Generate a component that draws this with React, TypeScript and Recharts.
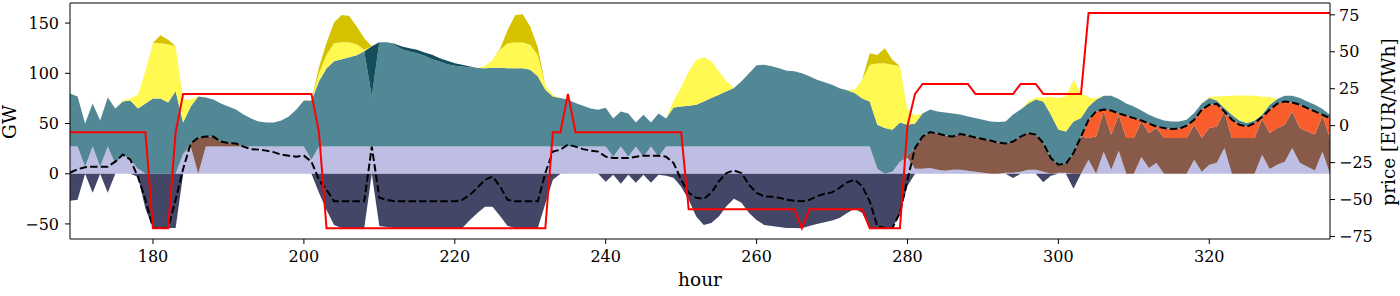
import { ComposedChart, Area, Line, XAxis, YAxis, ReferenceLine } from "recharts";

// hourly values, hours 169..336
const HOURS = Array.from({ length: 168 }, (_, i) => 169 + i);

const LAVENDER = [
  27, 27, 7, 27, 7, 27, 10, 19, 14, 5,
  0, 0, 0, 0, 0, 20, 27, 0, 27, 27,
  27, 27, 27, 27, 27, 27, 27, 27, 27, 27,
  27, 27, 14, 27, 27, 27, 27, 27, 27, 27,
  27, 27, 27, 27, 27, 27, 27, 27, 27, 27,
  27, 27, 27, 27, 27, 27, 27, 27, 27, 27,
  27, 27, 27, 27, 27, 27, 27, 27, 27, 27,
  27, 27, 17, 27, 17, 27, 17, 27, 17, 27,
  27, 27, 27, 27, 27, 27, 27, 27, 27, 27,
  27, 27, 27, 27, 27, 27, 27, 27, 27, 27,
  27, 27, 27, 27, 27, 27, 27, 5, 0, 2,
  12, 16, 5, 5, 5.6, 4, 3, 4, 4, 3,
  2, 1, 0, 0, 1, 1, 2, 4, 4, 2,
  0, 1, 1, 0, 0, 14, 0, 22, 4, 23,
  0, 0, 16.6, 5.6, 10.6, 0, 0, 0, 0, 14,
  2, 9, 11, 25.5, 0, 0, 0, 0, 19, 4.6,
  9, 12, 25.5, 11, 7, 3.3, 22, 0,
];

const BROWN = [
  0, 0, 0, 0, 0, 0, 0, 0, 0, 0,
  0, 0, 0, 0, 0, 0, 3, 36, 10, 10,
  5, 3.5, 3, 0, 0, 0, 0, 0, 0, 0,
  0, 0, 0, 0, 0, 0, 0, 0, 0, 0,
  0, 0, 0, 0, 0, 0, 0, 0, 0, 0,
  0, 0, 0, 0, 0, 0, 0, 0, 0, 0,
  0, 0, 0, 0, 0, 0, 0, 0, 0, 0,
  0, 0, 0, 0, 0, 0, 0, 0, 0, 0,
  0, 0, 0, 0, 0, 0, 0, 0, 0, 0,
  0, 0, 0, 0, 0, 0, 0, 0, 0, 0,
  0, 0, 0, 0, 0, 0, 0, 0, 0, 0,
  0, 2, 20.5, 32, 36, 36, 35, 33, 35.5, 35,
  34, 33.5, 33, 31, 29, 31, 35, 36.5, 35, 28.5,
  15.6, 8, 9, 20.6, 37, 21.5, 37, 40, 35, 35.7,
  35.5, 35.5, 35.4, 34.9, 34.9, 35.5, 35.5, 35.5, 35.5, 34.8,
  33.5, 36.5, 36, 36.5, 35.5, 35.5, 35.5, 35.5, 35.4, 35.9,
  36.5, 36.8, 36.5, 34.5, 35, 35.7, 35.7, 35.5,
];

const ORANGE = [
  0, 0, 0, 0, 0, 0, 0, 0, 0, 0,
  0, 0, 0, 0, 0, 0, 0, 0, 0, 0,
  0, 0, 0, 0, 0, 0, 0, 0, 0, 0,
  0, 0, 0, 0, 0, 0, 0, 0, 0, 0,
  0, 0, 0, 0, 0, 0, 0, 0, 0, 0,
  0, 0, 0, 0, 0, 0, 0, 0, 0, 0,
  0, 0, 0, 0, 0, 0, 0, 0, 0, 0,
  0, 0, 0, 0, 0, 0, 0, 0, 0, 0,
  0, 0, 0, 0, 0, 0, 0, 0, 0, 0,
  0, 0, 0, 0, 0, 0, 0, 0, 0, 0,
  0, 0, 0, 0, 0, 0, 0, 0, 0, 0,
  0, 0, 0, 0, 0, 0, 0, 0, 0, 0,
  0, 0, 0, 0, 0, 0, 0, 0, 0, 0,
  0, 0, 0, 0, 0, 18, 25, 2, 24, 1.3,
  22.2, 19.9, 1, 9.5, 1.5, 10, 9, 9.3, 12.3, 4.9,
  28.2, 23.2, 22.7, 0, 18.2, 13.3, 11.5, 14.9, 2, 23.2,
  24.2, 23.2, 9, 23.2, 23.4, 23, 1, 19.9,
];

const TEAL = [
  53, 50, 43, 43, 46, 49, 55, 53, 59, 60,
  70, 75, 75, 71, 82, 31, 37, 41, 39, 37,
  38, 36.5, 34, 32, 28, 25, 24, 24, 26, 30,
  37, 46, 59, 65, 78, 85, 87, 89, 91, 95,
  50, 104, 104, 101.4, 97, 94.8, 93, 90.5, 87, 84.8,
  82, 80.5, 79.8, 78.8, 78.2, 78, 78.5, 78.5, 78, 78,
  78, 76.5, 70, 56.6, 50, 48.3, 46.7, 43.3, 40.7, 38,
  36.7, 38.7, 38, 35, 43, 24, 41.7, 24, 43, 28,
  39, 40, 40.7, 41.7, 45, 48.3, 51.6, 55, 58.3, 65,
  73, 81, 81.5, 80, 78, 75.5, 75, 73, 70, 66.6,
  64, 61.6, 58, 56, 53.3, 48, 45, 43.8, 45.5, 41.8,
  39, 30.8, 24.5, 23, 22.4, 22, 23, 23, 19.5, 19,
  19.4, 19.2, 19, 20.4, 22, 27, 27, 29.5, 35, 41.5,
  43.4, 35, 32, 31.4, 18.4, 13.5, 11.7, 13.6, 14.6, 14.3,
  12.3, 11.6, 10, 8.7, 8.4, 7.5, 7.5, 7.2, 5.9, 6.7,
  6.3, 6.6, 3.3, 3.4, 5, 4.2, 3.4, 2.6, 2.3, 5,
  4.6, 5.6, 6.6, 6.6, 6.6, 6.7, 5.7, 3.3,
];

const DARK_TEAL = [
  0, 0, 0, 0, 0, 0, 0, 0, 0, 0,
  0, 0, 0, 0, 0, 0, 0, 0, 0, 0,
  0, 0, 0, 0, 0, 0, 0, 0, 0, 0,
  0, 0, 0, 0, 0, 0, 0, 0, 0, 0,
  50, 0, 0, 1, 2.7, 3.2, 3.4, 3.3, 4.5, 3.2,
  3.5, 2.5, 1.7, 1, 0, 0, 0, 0, 0, 0,
  0, 0, 0, 0, 0, 0, 0, 0, 0, 0,
  0, 0, 0, 0, 0, 0, 0, 0, 0, 0,
  0, 0, 0, 0, 0, 0, 0, 0, 0, 0,
  0, 0, 0, 0, 0, 0, 0, 0, 0, 0,
  0, 0, 0, 0, 0, 0, 0, 0, 0, 0,
  0, 0, 0, 0, 0, 0, 0, 0, 0, 0,
  0, 0, 0, 0, 0, 0, 0, 0, 0, 0,
  0, 0, 0, 0, 0, 0, 0, 0, 0, 0,
  0, 0, 0, 0, 0, 0, 0, 0, 0, 0,
  0, 0, 0, 0, 0, 0, 0, 0, 0, 0,
  0, 0, 0, 0, 0, 0, 0, 0,
];

const SOLAR = [
  0, 0, 0, 0, 0, 0, 0, 1, 2, 13.6,
  32, 55.5, 55, 58, 45, 22.7, 7, 0, 0, 0,
  0, 0, 0, 0, 0, 0, 0, 0, 0, 0,
  0, 0, 0.5, 8, 13.5, 18, 17, 15, 11, 1.4,
  0, 0, 0, 0, 0, 0, 0, 0, 0, 0,
  0, 0, 0, 0, 0, 2, 8, 18, 25, 25.7,
  25.7, 25, 21, 4.4, 1.5, 0, 0, 0, 0, 0,
  0, 0, 0, 0, 0, 0, 0, 0, 0, 0,
  7, 19, 34, 44.8, 44, 36.7, 23.4, 10, 0, 0,
  0, 0, 0, 0, 0, 0, 0, 0, 0, 0,
  0, 0, 0, 0, 3.3, 18.6, 36.5, 61, 64.5, 64.7,
  56, 15, 8, 0, 0, 0, 0, 0, 0, 0,
  0, 0, 0, 0, 0, 0, 0, 2, 2, 4,
  17.6, 31.5, 35, 41.5, 25, 9, 1.5, 0, 0, 0,
  0, 0, 0, 0, 0, 0, 0, 0, 0, 0,
  0, 1, 4, 12, 19, 25, 27.6, 24.6, 18, 7.6,
  0, 0, 0, 0, 0, 0, 0, 0,
];

const OLIVE = [
  0, 0, 0, 0, 0, 0, 0, 0, 0, 0,
  0, 0, 8, 4.4, 0, 0, 0, 0, 0, 0,
  0, 0, 0, 0, 0, 0, 0, 0, 0, 0,
  0, 0, 0, 6, 12, 20.6, 27, 26, 17.6, 11.6,
  0, 0, 0, 0, 0, 0, 0, 0, 0, 0,
  0, 0, 0, 0, 0, 0, 0, 1, 13, 27,
  28, 18, 8, 0, 0, 0, 0, 0, 0, 0,
  0, 0, 0, 0, 0, 0, 0, 0, 0, 0,
  0, 0, 0, 0, 0, 0, 0, 0, 0, 0,
  0, 0, 0, 0, 0, 0, 0, 0, 0, 0,
  0, 0, 0, 0, 0, 0, 11.5, 8.5, 15, 5,
  0, 0, 0, 0, 0, 0, 0, 0, 0, 0,
  0, 0, 0, 0, 0, 0, 0, 0, 0, 0,
  0, 0, 0, 0, 0, 0, 0, 0, 0, 0,
  0, 0, 0, 0, 0, 0, 0, 0, 0, 0,
  0, 0, 0, 0, 0, 0, 0, 0, 0, 0,
  0, 0, 0, 0, 0, 0, 0, 0,
];

const NAVY = [
  -27, -26, 0, -19, 0, -19, 0, 0, 0, -3,
  -35, -54, -54, -54, -54, 0, 0, 0, 0, 0,
  0, 0, 0, 0, 0, 0, 0, 0, 0, 0,
  0, 0, 0, -19, -36, -51, -54, -54, -54, -54,
  0, -52, -53, -54, -54, -54, -54, -54, -54, -54,
  -54, -54, -54, -46, -39, -33, -33, -42, -52, -54,
  -54, -54, -54, -30, -6, 0, 0, 0, 0, 0,
  0, -8, -1, -10, -1, -9, -1, -9, -1, -2,
  -4, -13, -26, -42.5, -51, -49, -42.5, -32.5, -25, -29,
  -39, -46, -51, -52, -53, -54, -54, -54.4, -52, -50,
  -48.4, -46.5, -44, -39, -35, -39, -54, -54, -54, -54,
  -40, -12, 0, 0, 0, 0, 0, 0, 0, 0,
  0, 0, 0, 0, 0, -4.3, 0, 0, 0, -8.6,
  -2, 0, 0, -15, 0, 0, 0, 0, 0, 0,
  0, 0, 0, 0, 0, 0, 0, 0, 0, 0,
  0, 0, 0, 0, 0, 0, 0, 0, 0, 0,
  0, 0, 0, 0, 0, 0, 0, 0,
];

// dashed black line (GW)
const NET = [
  1, 4.5, 6.5, 7, 7, 7, 12, 19, 14, -3,
  -26, -54, -54, -54, -26, 5, 30, 36, 37, 37,
  32, 30.5, 30, 27, 24.5, 24, 23, 21.5, 19, 18,
  17, 18, 12, -6, -16, -27.5, -27.5, -27.5, -27.5, -27.5,
  27, -24, -26, -27.5, -27.5, -27.5, -27.5, -27.5, -27.5, -27.5,
  -27.5, -27.5, -26, -21, -14, -6, -2.7, -12.6, -26, -27.5,
  -27.5, -27.5, -27.5, 0.7, 22, 24, 29, 27, 24.5, 23,
  22, 17, 15.6, 15.6, 15.6, 17, 18, 18, 18, 17,
  10.6, -6, -19, -24, -25, -19, -7.6, 0.7, 3.3, 0.7,
  -11, -19, -22.5, -23, -24, -26, -27, -27.5, -26, -22.5,
  -20, -18.6, -14, -8.6, -6, -12.6, -27.5, -52, -54, -54,
  -39, -6, 25.5, 37, 41.5, 40, 38, 37, 39.5, 38,
  36, 34.5, 33, 31, 30, 32, 37, 40.5, 39, 30.5,
  15.6, 9, 10, 20.6, 37, 53.7, 62, 64, 63, 60,
  57.7, 55.4, 53, 50, 47, 45.5, 44.5, 44.8, 47.8, 53.7,
  63.7, 68.7, 69.7, 62, 53.7, 48.8, 47, 50.4, 56.4, 63.7,
  69.7, 72, 71, 68.7, 65.4, 62, 58.7, 55.4,
];

// red line (EUR/MWh)
const PRICE = [
  -4.5, -4.5, -4.5, -4.5, -4.5, -4.5, -4.5, -4.5, -4.5, -4.5,
  -4.5, -69.5, -69.5, -69.5, -4.5, 21.5, 21.5, 21.5, 21.5, 21.5,
  21.5, 21.5, 21.5, 21.5, 21.5, 21.5, 21.5, 21.5, 21.5, 21.5,
  21.5, 21.5, 21.5, -4.5, -69.5, -69.5, -69.5, -69.5, -69.5, -69.5,
  -69.5, -69.5, -69.5, -69.5, -69.5, -69.5, -69.5, -69.5, -69.5, -69.5,
  -69.5, -69.5, -69.5, -69.5, -69.5, -69.5, -69.5, -69.5, -69.5, -69.5,
  -69.5, -69.5, -69.5, -69.5, -4.5, -4.5, 21.5, -4.5, -4.5, -4.5,
  -4.5, -4.5, -4.5, -4.5, -4.5, -4.5, -4.5, -4.5, -4.5, -4.5,
  -4.5, -4.5, -56.6, -56.6, -56.6, -56.6, -56.6, -56.6, -56.6, -56.6,
  -56.6, -56.6, -56.6, -56.6, -56.6, -56.6, -56.6, -69.5, -56.6, -56.6,
  -56.6, -56.6, -56.6, -56.6, -56.6, -56.6, -69.5, -69.5, -69.5, -69.5,
  -69.5, 0, 21.5, 28.2, 28.2, 28.2, 28.2, 28.2, 28.2, 28.2,
  21.5, 21.5, 21.5, 21.5, 21.5, 21.5, 28.2, 28.2, 28.2, 21.5,
  21.5, 21.5, 21.5, 21.5, 21.5, 76.3, 76.3, 76.3, 76.3, 76.3,
  76.3, 76.3, 76.3, 76.3, 76.3, 76.3, 76.3, 76.3, 76.3, 76.3,
  76.3, 76.3, 76.3, 76.3, 76.3, 76.3, 76.3, 76.3, 76.3, 76.3,
  76.3, 76.3, 76.3, 76.3, 76.3, 76.3, 76.3, 76.3,
];

const X_TICKS = [180, 200, 220, 240, 260, 280, 300, 320];
const GW_TICKS = [-50, 0, 50, 100, 150];
const PRICE_TICKS = [-75, -50, -25, 0, 25, 50, 75];

const FONT = "DejaVu Serif";
const minus = (v: number) => String(v).replace("-", "\u2212");

const data = HOURS.map((hour, i) => ({
  hour,
  lavender: LAVENDER[i],
  brown: BROWN[i],
  orange: ORANGE[i],
  teal: TEAL[i],
  darkTeal: DARK_TEAL[i],
  solar: SOLAR[i],
  olive: OLIVE[i],
  navy: NAVY[i],
  net: NET[i],
  price: PRICE[i],
}));

const STACK = [
  { key: "lavender", color: "#bebde4" },
  { key: "brown", color: "#885a4a" },
  { key: "orange", color: "#f95d2b" },
  { key: "teal", color: "#528795" },
  { key: "darkTeal", color: "#144e5c" },
  { key: "solar", color: "#fff952" },
  { key: "olive", color: "#d6c300" },
];

const tickStyle = { fill: "#000", fontSize: 16, fontFamily: FONT };

export default function App() {
  return (
    <div style={{ position: "absolute", left: 0, top: 0, width: 1400, height: 296, background: "#fff" }}>
      <ComposedChart width={1400} height={296} data={data} margin={{ top: 3, right: 0, bottom: 0, left: 0 }}>
        <XAxis
          dataKey="hour"
          type="number"
          domain={[169, 336]}
          ticks={X_TICKS}
          allowDataOverflow
          height={57}
          tickSize={5}
          tickMargin={7}
          tick={tickStyle}
          axisLine={{ stroke: "#000" }}
          tickLine={{ stroke: "#000" }}
        />
        <YAxis
          yAxisId="left"
          domain={[-65, 170]}
          ticks={GW_TICKS}
          allowDataOverflow
          width={70}
          tickSize={5}
          tickMargin={6}
          tickFormatter={minus}
          tick={tickStyle}
          axisLine={{ stroke: "#000" }}
          tickLine={{ stroke: "#000" }}
        />
        <YAxis
          yAxisId="right"
          orientation="right"
          domain={[-76.7, 83]}
          ticks={PRICE_TICKS}
          allowDataOverflow
          width={70}
          tickSize={5}
          tickMargin={4}
          tickFormatter={minus}
          tick={tickStyle}
          axisLine={{ stroke: "#000" }}
          tickLine={{ stroke: "#000" }}
        />
        {STACK.map((s) => (
          <Area
            key={s.key}
            yAxisId="left"
            type="linear"
            dataKey={s.key}
            stackId="pos"
            fill={s.color}
            fillOpacity={1}
            stroke="none"
            dot={false}
            activeDot={false}
            isAnimationActive={false}
          />
        ))}
        <Area
          yAxisId="left"
          type="linear"
          dataKey="navy"
          stackId="neg"
          fill="#444668"
          fillOpacity={1}
          stroke="none"
          dot={false}
          activeDot={false}
          isAnimationActive={false}
        />
        <Line
          yAxisId="left"
          type="linear"
          dataKey="net"
          stroke="#000"
          strokeWidth={2}
          strokeDasharray="7.4 3.2"
          dot={false}
          activeDot={false}
          isAnimationActive={false}
        />
        <Line
          yAxisId="right"
          type="linear"
          dataKey="price"
          stroke="#ff0000"
          strokeWidth={2}
          dot={false}
          activeDot={false}
          isAnimationActive={false}
        />
        <ReferenceLine yAxisId="left" y={170} stroke="#000" />
      </ComposedChart>
      <svg
        width={1400}
        height={296}
        style={{ position: "absolute", left: 0, top: 0, pointerEvents: "none" }}
        fontFamily={FONT}
        fontSize={18.5}
      >
        <text x={0} y={0} textAnchor="middle" transform="translate(16,122) rotate(-90)">GW</text>
        <text x={700} y={286} textAnchor="middle">hour</text>
        <text x={0} y={0} textAnchor="middle" transform="translate(1395,122) rotate(-90)">price [EUR/MWh]</text>
      </svg>
    </div>
  );
}
